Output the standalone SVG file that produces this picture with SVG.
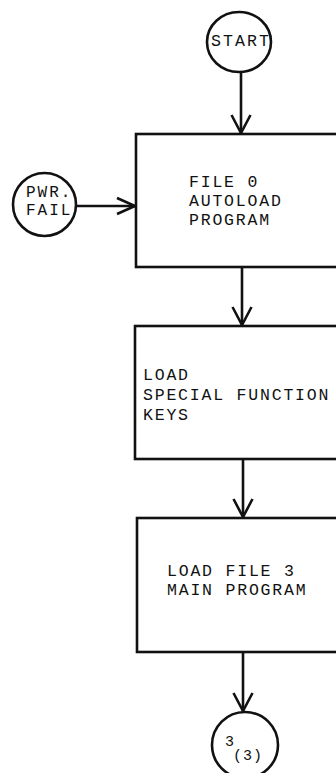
<svg xmlns="http://www.w3.org/2000/svg" width="336" height="773" viewBox="0 0 336 773">
  <style>
    .shape { fill: #fff; stroke: #111; stroke-width: 2.6; }
    .line { fill: none; stroke: #111; stroke-width: 2.6; }
    .head { fill: none; stroke: #111; stroke-width: 2.6; stroke-linejoin: miter; }
    .txt { font-family: "Liberation Mono", "Courier New", monospace; font-size: 16.5px; letter-spacing: 1.8px; fill: #111; }
    .label { font-family: "Liberation Mono", "Courier New", monospace; font-size: 16px; letter-spacing: 2px; fill: #111; }
    .small { font-family: "Liberation Mono", "Courier New", monospace; font-size: 15px; letter-spacing: 1px; fill: #111; }
  </style>
  <rect width="336" height="773" fill="#fff"/>

  <!-- connectors -->
  <g id="connectors">
    <line class="line" x1="241" y1="72" x2="241" y2="134"/>
    <polyline class="head" points="231.5,115 241,133 250.5,115"/>

    <line class="line" x1="76" y1="206" x2="136" y2="206"/>
    <polyline class="head" points="117,198 135,206 117,214"/>

    <line class="line" x1="242" y1="267" x2="242" y2="325"/>
    <polyline class="head" points="232.5,307 242,325 251.5,307"/>

    <line class="line" x1="243" y1="459" x2="243" y2="517"/>
    <polyline class="head" points="233.5,499 243,517 252.5,499"/>

    <line class="line" x1="243" y1="652" x2="243" y2="711"/>
    <polyline class="head" points="233.5,693 243,711 252.5,693"/>
  </g>

  <!-- start terminal -->
  <g id="start">
    <ellipse class="shape" cx="239" cy="42" rx="32" ry="30"/>
    <text class="label" x="211" y="46" textLength="60" lengthAdjust="spacingAndGlyphs">START</text>
  </g>

  <!-- power-fail entry -->
  <g id="pwr-fail">
    <circle class="shape" cx="44.5" cy="204.5" r="31.5"/>
    <text class="label" x="26" y="197">PWR.</text>
    <text class="label" x="26" y="215">FAIL</text>
  </g>

  <!-- file 0 autoload -->
  <g id="autoload">
    <rect class="shape" x="136" y="134" width="220" height="133"/>
    <text class="txt" x="189" y="187">FILE 0</text>
    <text class="txt" x="189" y="206">AUTOLOAD</text>
    <text class="txt" x="189" y="225">PROGRAM</text>
  </g>

  <!-- special function keys -->
  <g id="sfk">
    <rect class="shape" x="135" y="326" width="221" height="133"/>
    <text class="txt" x="143" y="380">LOAD</text>
    <text class="txt" x="143" y="400">SPECIAL FUNCTION</text>
    <text class="txt" x="143" y="420">KEYS</text>
  </g>

  <!-- main program -->
  <g id="main-program">
    <rect class="shape" x="137" y="518" width="219" height="134"/>
    <text class="txt" x="167" y="576">LOAD FILE 3</text>
    <text class="txt" x="167" y="595">MAIN PROGRAM</text>
  </g>

  <!-- off-page connector -->
  <g id="connector-3">
    <circle class="shape" cx="245" cy="745" r="33"/>
    <text class="small" x="225" y="746">3</text>
    <text class="small" x="233" y="760">(3)</text>
  </g>
</svg>
